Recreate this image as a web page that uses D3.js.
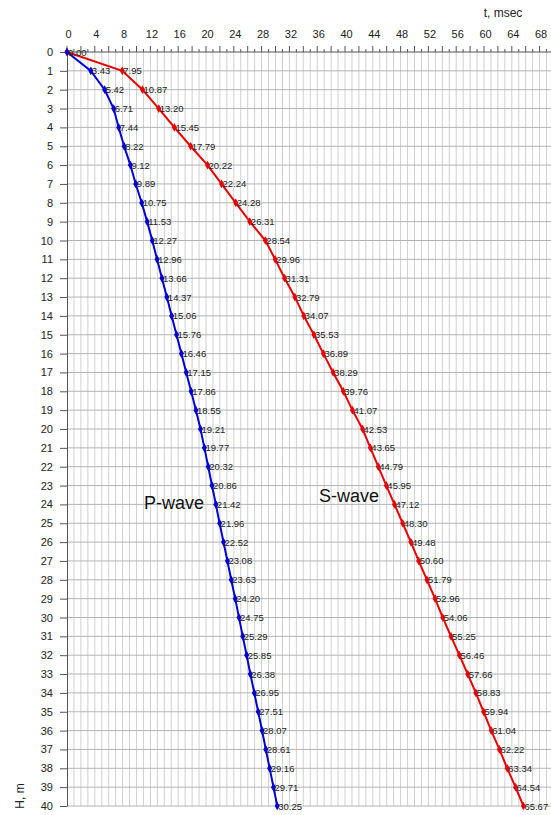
<!DOCTYPE html>
<html>
<head>
<meta charset="utf-8">
<script src="https://cdn.jsdelivr.net/npm/d3@7"></script>
<style>
  body { margin: 0; background: #fff; }
  svg { display: block; font-family: "Liberation Sans", Arial, sans-serif; }
</style>
</head>
<body>
<svg id="chart"></svg>
<script>
// depth, m
const depths = d3.range( 0, 41 );
// P-wave arrival time, msec
const pTimes = [ 0.00, 3.43, 5.42, 6.71, 7.44, 8.22, 9.12, 9.89, 10.75, 11.53,
    12.27, 12.96, 13.66, 14.37, 15.06, 15.76, 16.46, 17.15, 17.86, 18.55,
    19.21, 19.77, 20.32, 20.86, 21.42, 21.96, 22.52, 23.08, 23.63, 24.20,
    24.75, 25.29, 25.85, 26.38, 26.95, 27.51, 28.07, 28.61, 29.16, 29.71, 30.25 ];
// S-wave arrival time, msec
const sTimes = [ 0.00, 7.95, 10.87, 13.20, 15.45, 17.79, 20.22, 22.24, 24.28, 26.31,
    28.54, 29.96, 31.31, 32.79, 34.07, 35.53, 36.89, 38.29, 39.76, 41.07,
    42.53, 43.65, 44.79, 45.95, 47.12, 48.30, 49.48, 50.60, 51.79, 52.96,
    54.06, 55.25, 56.46, 57.66, 58.83, 59.94, 61.04, 62.22, 63.34, 64.54, 65.67 ];
const xTicks = d3.range( 0, 69, 4 );

const width = 551, height = 815;
const margin = { top: 52, left: 67 };
const pxPerMs = 6.95;

const svg = d3.select( '#chart' )
    .attr( 'width', width )
    .attr( 'height', height );

const x = d3.scaleLinear().domain( [ 0, 70 ] ).range( [ margin.left, margin.left + 70 * pxPerMs ] );
const y = d3.scaleLinear().domain( [ 0, 40 ] ).range( [ margin.top, 806 ] );

// vertical grid every 1 msec
svg.append( 'g' )
    .selectAll( 'line' )
    .data( d3.range( 1, 70 ) )
    .join( 'line' )
    .attr( 'x1', d => x( d ) ).attr( 'x2', d => x( d ) )
    .attr( 'y1', y( 0 ) ).attr( 'y2', y( 40 ) )
    .attr( 'stroke', '#d0d0d0' )
    .attr( 'stroke-width', 1 );

// horizontal grid every 1 m
svg.append( 'g' )
    .selectAll( 'line' )
    .data( depths.slice( 1 ) )
    .join( 'line' )
    .attr( 'x1', x( 0 ) ).attr( 'x2', width )
    .attr( 'y1', d => y( d ) ).attr( 'y2', d => y( d ) )
    .attr( 'stroke', '#b4b4b4' )
    .attr( 'stroke-width', 1 );

// top axis
const xaxis = d3.axisTop( x )
    .tickValues( xTicks )
    .tickSize( 0 )
    .tickPadding( 14 );
const xg = svg.append( 'g' )
    .attr( 'transform', `translate(1, ${y( 0 )})` )
    .call( xaxis );
xg.select( '.domain' ).remove();
xg.selectAll( 'text' ).style( 'font-size', '11px' ).attr( 'fill', '#222' );

svg.append( 'line' )
    .attr( 'x1', x( 0 ) ).attr( 'x2', width )
    .attr( 'y1', y( 0 ) ).attr( 'y2', y( 0 ) )
    .attr( 'stroke', '#555' );

svg.append( 'g' )
    .selectAll( 'line' )
    .data( d3.range( 0, 70 ) )
    .join( 'line' )
    .attr( 'x1', d => x( d ) ).attr( 'x2', d => x( d ) )
    .attr( 'y1', y( 0 ) )
    .attr( 'y2', d => y( 0 ) - ( d % 2 == 0 ? 6 : 3 ) )
    .attr( 'stroke', '#555' );

// left axis
const yaxis = d3.axisLeft( y )
    .tickValues( depths )
    .tickSize( 7 )
    .tickPadding( 7 )
    .tickSizeOuter( 0 );
const yg = svg.append( 'g' )
    .attr( 'transform', `translate(${x( 0 )}, 0)` )
    .call( yaxis );
yg.select( '.domain' ).attr( 'stroke', '#555' );
yg.selectAll( '.tick line' ).attr( 'stroke', '#555' );
yg.selectAll( 'text' ).style( 'font-size', '11px' ).attr( 'fill', '#222' );

// axis titles
svg.append( 'text' )
    .attr( 'x', 503 ).attr( 'y', 17 )
    .attr( 'text-anchor', 'middle' )
    .style( 'font-size', '12px' )
    .attr( 'fill', '#222' )
    .text( 't, msec' );

svg.append( 'text' )
    .attr( 'transform', 'translate(24, 796) rotate(-90)' )
    .attr( 'text-anchor', 'middle' )
    .style( 'font-size', '12px' )
    .attr( 'fill', '#222' )
    .text( 'H, m' );

// series
const series = [
    { name: 'S-wave', values: sTimes, color: '#e60000' },
    { name: 'P-wave', values: pTimes, color: '#0000d0' }
];

const line = d3.line()
    .x( d => x( d.t ) )
    .y( d => y( d.h ) );

series.forEach( s => {
    const pts = s.values.map( ( t, i ) => ( { t: t, h: depths[ i ] } ) );
    const g = svg.append( 'g' );
    g.append( 'path' )
        .datum( pts )
        .attr( 'd', line )
        .attr( 'fill', 'none' )
        .attr( 'stroke', s.color )
        .attr( 'stroke-width', 2 );
    g.selectAll( 'path.marker' )
        .data( pts )
        .join( 'path' )
        .attr( 'class', 'marker' )
        .attr( 'd', d3.symbol( d3.symbolDiamond, 22 ) )
        .attr( 'transform', d => `translate(${x( d.t )}, ${y( d.h )})` )
        .attr( 'fill', s.color );
    g.selectAll( 'text' )
        .data( pts.filter( ( d, i ) => i > 0 || s.name == 'P-wave' ) )
        .join( 'text' )
        .attr( 'x', d => x( d.t ) + 1 )
        .attr( 'y', d => y( d.h ) + 3.5 )
        .style( 'font-size', '9.5px' )
        .attr( 'fill', '#222' )
        .text( d => d.t.toFixed( 2 ) );
} );

// wave names
svg.append( 'text' )
    .attr( 'x', 144 ).attr( 'y', 509 )
    .style( 'font-size', '18px' )
    .attr( 'fill', '#111' )
    .text( 'P-wave' );
svg.append( 'text' )
    .attr( 'x', 319 ).attr( 'y', 502 )
    .style( 'font-size', '18px' )
    .attr( 'fill', '#111' )
    .text( 'S-wave' );
</script>
</body>
</html>
